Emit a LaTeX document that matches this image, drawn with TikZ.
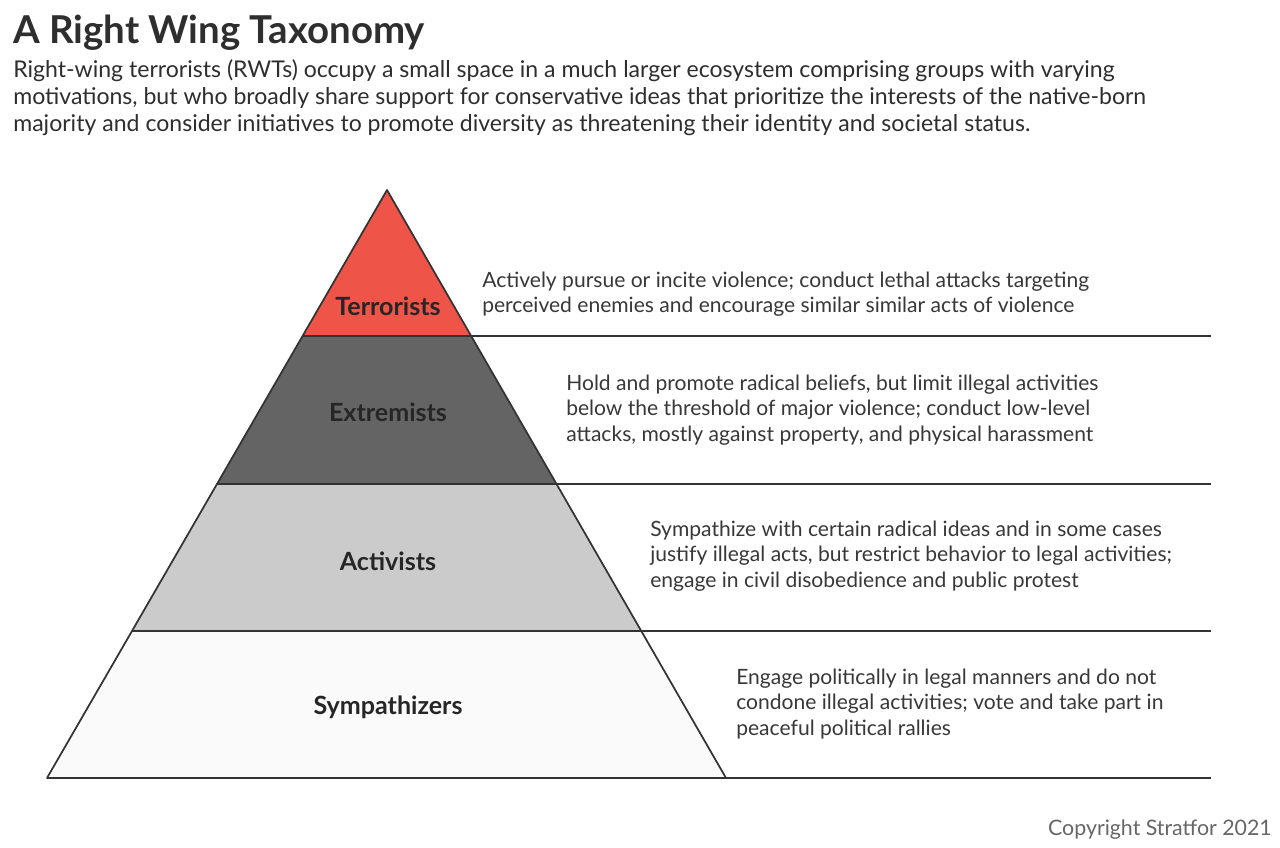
\documentclass[tikz,border=0pt]{standalone}
\usepackage{fontspec}
\setmainfont{Lato}
\begin{document}
\begin{tikzpicture}[x=0.75pt,y=-0.75pt,
  desc/.style={anchor=base west,inner sep=0,font=\fontsize{15.8}{19}\selectfont,text=black!78},
  para/.style={anchor=base west,inner sep=0,font=\fontsize{17.3}{19}\selectfont,text=black!82},
  lvl/.style={font=\fontsize{18.8}{22}\selectfont\bfseries,text=black!85},
  edge/.style={draw=black!80,line width=1.3pt,line join=round}]
\useasboundingbox (0,0) rectangle (1280,848);
\fill[white] (0,0) rectangle (1280,848);
\coordinate (A) at (387,190);
\coordinate (L1) at (302.6,336); \coordinate (R1) at (471.4,336);
\coordinate (L2) at (217.2,484); \coordinate (R2) at (556.8,484);
\coordinate (L3) at (132.4,631); \coordinate (R3) at (641.6,631);
\coordinate (L4) at (47,778); \coordinate (R4) at (726,778);
\fill[fill={rgb,255:red,238;green,85;blue,72}] (A)--(R1)--(L1)--cycle;
\fill[fill={rgb,255:red,100;green,100;blue,100}] (L1)--(R1)--(R2)--(L2)--cycle;
\fill[fill={rgb,255:red,203;green,203;blue,203}] (L2)--(R2)--(R3)--(L3)--cycle;
\fill[fill={rgb,255:red,250;green,250;blue,250}] (L3)--(R3)--(R4)--(L4)--cycle;
\draw[edge] (A)--(L4)--(R4)--cycle;
\draw[edge] (L1)--(1211,336);
\draw[edge] (L2)--(1211,484);
\draw[edge] (L3)--(1211,631);
\draw[edge] (R4)--(1211,778);
\node[anchor=base west,inner sep=0,font=\fontsize{28.8}{32}\selectfont\bfseries,text=black!82] (title) at (13,44) {A Right Wing Taxonomy};
\node[para] (p1) at (13,78) {Right-wing terrorists (RWTs) occupy a small space in a much larger ecosystem comprising groups with varying};
\node[para] (p2) at (13,105) {motivations, but who broadly share support for conservative ideas that prioritize the interests of the native-born};
\node[para] (p3) at (13,132) {majority and consider initiatives to promote diversity as threatening their identity and societal status.};
\node[lvl] (t) at (388,306) {Terrorists};
\node[lvl] (e) at (388,412) {Extremists};
\node[lvl] (a) at (388,561) {Activists};
\node[lvl] (s) at (388,707) {Sympathizers};
\node[desc] (d1) at (482,288) {Actively pursue or incite violence; conduct lethal attacks targeting};
\node[desc] (d2) at (482,313) {perceived enemies and encourage similar similar acts of violence};
\node[desc] (d3) at (566,390) {Hold and promote radical beliefs, but limit illegal activities};
\node[desc] (d4) at (566,415) {below the threshold of major violence; conduct low-level};
\node[desc] (d5) at (566,441) {attacks, mostly against property, and physical harassment};
\node[desc] (d6) at (650,536) {Sympathize with certain radical ideas and in some cases};
\node[desc] (d7) at (650,561) {justify illegal acts, but restrict behavior to legal activities;};
\node[desc] (d8) at (650,587) {engage in civil disobedience and public protest};
\node[desc] (d9) at (736,684) {Engage politically in legal manners and do not};
\node[desc] (d10) at (736,709) {condone illegal activities; vote and take part in};
\node[desc] (d11) at (736,735) {peaceful political rallies};
\node[anchor=base east,inner sep=0,font=\fontsize{16}{19}\selectfont,text=black!60] (c) at (1272,835) {Copyright Stratfor 2021};
\end{tikzpicture}
\end{document}
